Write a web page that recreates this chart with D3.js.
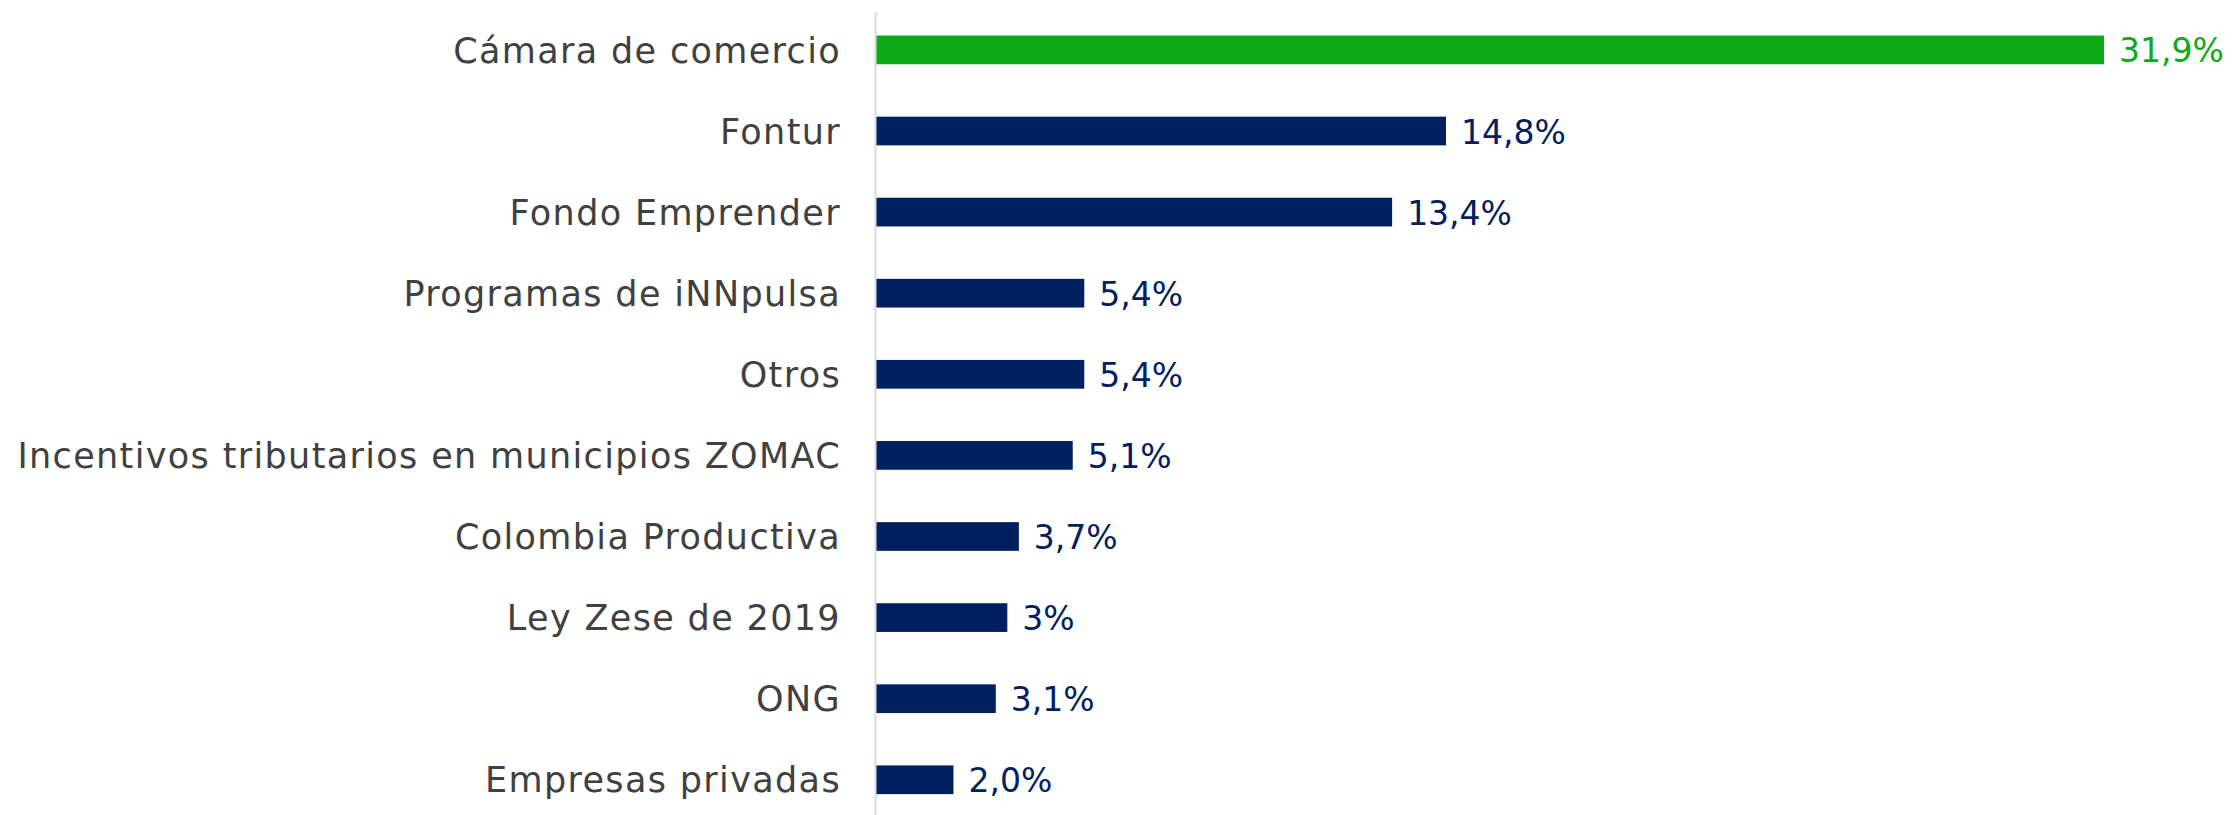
<!DOCTYPE html>
<html>
<head>
<meta charset="utf-8">
<script src="https://cdn.jsdelivr.net/npm/d3@7"></script>
<style>
  html, body { margin: 0; padding: 0; background: #ffffff; }
  svg { display: block; }
</style>
</head>
<body>
<svg id="chart" width="2235" height="815"></svg>
<script>
const categories = [
  "Cámara de comercio",
  "Fontur",
  "Fondo Emprender",
  "Programas de iNNpulsa",
  "Otros",
  "Incentivos tributarios en municipios ZOMAC",
  "Colombia Productiva",
  "Ley Zese de 2019",
  "ONG",
  "Empresas privadas"
];
const values = [31.9, 14.8, 13.4, 5.4, 5.4, 5.1, 3.7, 3.4, 3.1, 2.0];
const valueLabels = ["31,9%", "14,8%", "13,4%", "5,4%", "5,4%", "5,1%", "3,7%", "3%", "3,1%", "2,0%"];
const highlight = ["Cámara de comercio"];

const W = 2235, H = 815;
const axisX = 876.5;
const svg = d3.select("#chart");

const x = d3.scaleLinear().domain([0, 31.9]).range([axisX, 2104]);
const y = d3.scaleBand().domain(categories).range([9.35, 820.35]).paddingInner(0.646).paddingOuter(0.323);

const green = "#0caa17";
const navy = "#00205f";
const font = "'DejaVu Sans', sans-serif";

// axis line
svg.append("line")
  .attr("x1", axisX - 1).attr("x2", axisX - 1)
  .attr("y1", 12).attr("y2", H)
  .attr("stroke", "#d9d9d9").attr("stroke-width", 2);

// bars
svg.append("g").selectAll("rect").data(categories).join("rect")
  .attr("x", axisX)
  .attr("y", d => y(d))
  .attr("width", (d, i) => x(values[i]) - x(0))
  .attr("height", y.bandwidth())
  .attr("fill", d => highlight.includes(d) ? green : navy);

// category labels
const yAxis = d3.axisLeft(y).tickSize(0).tickPadding(0);
const gy = svg.append("g").attr("transform", `translate(841,0)`).call(yAxis);
gy.select(".domain").remove();
gy.selectAll("text")
  .attr("font-family", font)
  .attr("font-size", 35)
  .attr("letter-spacing", "1.35px")
  .attr("fill", "#404040")
  .attr("dy", "0.36em");

// value labels
svg.append("g").selectAll("text").data(categories).join("text")
  .attr("x", (d, i) => x(values[i]) + 15)
  .attr("y", d => y(d) + y.bandwidth() / 2)
  .attr("dy", "0.38em")
  .attr("font-family", font)
  .attr("font-size", 33)
  .attr("fill", d => highlight.includes(d) ? green : navy)
  .text((d, i) => valueLabels[i]);
</script>
</body>
</html>
